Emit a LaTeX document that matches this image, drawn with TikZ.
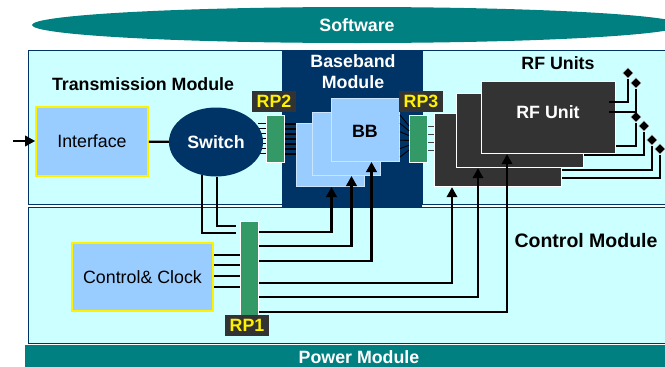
\documentclass[tikz,border=0pt]{standalone}
\usepackage{fontspec}
\setmainfont{Liberation Sans}
\usetikzlibrary{arrows.meta,shapes.geometric}
\definecolor{softteal}{HTML}{008080}
\definecolor{bgcyan}{HTML}{CCFFFF}
\definecolor{navy}{HTML}{003366}
\definecolor{bblue}{HTML}{99CCFF}
\definecolor{bbedge}{HTML}{CCE5FF}
\definecolor{rpgreen}{HTML}{339966}
\definecolor{rfgray}{HTML}{333333}
\newcommand{\lblfont}{\fontsize{17.8pt}{21pt}\selectfont}
\begin{document}
\begin{tikzpicture}[x=1pt, y=-1pt, >={Triangle[length=10pt,width=10.5pt]},
  module/.style={draw=navy, line width=1pt, fill=bgcyan, anchor=north west, inner sep=0pt},
  title/.style={font=\lblfont\bfseries},
  bbbox/.style={draw=bbedge, line width=1pt, fill=bblue, anchor=north west, inner sep=0pt, minimum width=68pt, minimum height=63pt},
  rfbox/.style={draw=white, line width=1.2pt, fill=rfgray, anchor=north west, inner sep=0pt, minimum height=73pt},
  rpbar/.style={draw=white, line width=1.2pt, fill=rpgreen, anchor=north west, inner sep=0pt, minimum width=18pt},
  rplabel/.style={fill=rfgray, text=yellow, font=\lblfont\bfseries, inner sep=0pt, minimum width=44pt, minimum height=21pt},
  ctrlbox/.style={draw=yellow, line width=1.8pt, fill=bblue, inner sep=0pt, font=\lblfont},
  antenna/.style={diamond, draw=white, line width=0.5pt, fill=black, inner sep=0pt, minimum width=11pt, minimum height=11pt},
  wire/.style={line width=2.2pt},
  thinwire/.style={line width=0.9pt}]
  \useasboundingbox (0,0) rectangle (665,367);
  \clip (0,0) rectangle (665,367);
  \fill[white] (0,0) rectangle (665,367);
  \node[ellipse, fill=softteal, text=white, title, minimum width=650pt, minimum height=36pt, inner sep=0pt] (soft) at (357,25) {Software};
  \node[module, minimum width=652pt, minimum height=136pt] (ctrl) at (28,207) {};
  \node[module, minimum width=254pt, minimum height=154pt] (trans) at (28,50) {};
  \node[module, minimum width=258pt, minimum height=154pt] (rfu) at (422,50) {};
  \node[fill=navy, anchor=north west, inner sep=0pt, minimum width=140pt, minimum height=157pt] (base) at (282,50) {};
  \node[fill=softteal, anchor=north west, inner sep=0pt, minimum width=655pt, minimum height=25pt] (power) at (25,345) {};
  \node[title] (translbl) at (143,84) {Transmission Module};
  \node[title, text=white, align=center] (baselbl) at (353,72) {Baseband\\Module};
  \node[title] (rflbl) at (558,63) {RF Units};
  \node[font=\fontsize{19.5pt}{22pt}\selectfont\bfseries] (ctrllbl) at (586,241) {Control Module};
  \node[title, text=white] (powerlbl) at (359,357) {Power Module};
  \node[ctrlbox, minimum width=112pt, minimum height=69pt] (iface) at (92,141.5) {Interface};
  \node[ctrlbox, minimum width=141pt, minimum height=68pt] (clock) at (142.5,277) {Control\& Clock};
  \coordinate (in) at (13,141);
  \draw[wire,->] (in) -- (iface.west |- in);
  \foreach \y in {123,128,...,153}
    \draw[thinwire] (266,\y) -- ++(-8,0);
  \node[ellipse, fill=navy, text=white, title, minimum width=94pt, minimum height=69pt, inner sep=0pt] (switch) at (216,142) {Switch};
  \draw[wire] (iface) -- (switch);
  \node[bbbox] (bb3) at (296,123) {};
  \node[bbbox] (bb2) at (312,112) {};
  \node[bbbox] (bb1) at (331,98) {};
  \node[title] (bblbl) at (365,131) {BB};
  \node[rfbox, minimum width=127pt] (rf3) at (434,113) {};
  \node[rfbox, minimum width=127pt, minimum height=74pt] (rf2) at (456,93) {};
  \node[rfbox, minimum width=134pt, minimum height=72pt] (rf1) at (481,81) {};
  \node[title, text=white] (rflabel) at (548,112) {RF Unit};
  \node[rpbar, minimum height=47pt] (rp2) at (266,115) {};
  \node[rpbar, minimum height=47pt] (rp3) at (409,115) {};
  \node[rpbar, minimum height=94pt] (rp1) at (240,221) {};
  \node[rplabel] (rp2lbl) at (274,101.5) {RP2};
  \node[rplabel] (rp3lbl) at (421,101.5) {RP3};
  \node[rplabel] (rp1lbl) at (247,325) {RP1};
  \foreach \n/\x/\y in {1/628/73, 2/636/83, 3/636/117, 4/644/126, 5/652/140, 6/660/149}
    \node[antenna] (a\n) at (\x,\y) {};
  \foreach \y in {124,129,...,154}
    \draw[line width=1.6pt] (rp2.east |- 0,\y) -- (bb3.west |- 0,\y);
  \foreach \k [evaluate=\k as \ya using 115+8.4*\k, evaluate=\k as \yb using 126+4.8*\k] in {0,...,5}
    \draw[thinwire] (bb1.east |- 0,\ya) -- (rp3.west |- 0,\yb);
  \foreach \y in {126,134,142,150}
    \draw[thinwire, darkgray] (rp3.east |- 0,\y) -- (rf3.west |- 0,\y);
  \draw[wire] ([xshift=-7pt]rf1.east |- 0,102) -| (a1);
  \draw[wire] ([xshift=-7pt]rf1.east |- 0,112) -| (a2);
  \draw[wire] (rf1.east |- 0,146) -| (a3);
  \draw[wire] (rf2.east |- 0,155) -| (a4);
  \draw[wire] (rf3.east |- 0,170) -| (a5);
  \draw[wire] (rf3.east |- 0,178) -| (a6);
  \draw[wire, shorten >=4pt] (switch.247) |- (rp1.west |- 0,233);
  \draw[wire, shorten >=4pt] (switch.272) |- (rp1.west |- 0,226);
  \foreach \y in {255,265,276,287}
    \draw[wire] (clock.east |- 0,\y) -- (rp1.west |- 0,\y);
  \draw[wire,->] (rp1.east |- 0,232) -| ([xshift=1pt]bb3.south);
  \draw[wire,->] (rp1.east |- 0,246) -| ([xshift=5pt]bb2.south);
  \draw[wire,->] (rp1.east |- 0,261) -| ([xshift=6pt]bb1.south);
  \draw[wire,->] (rp1.east |- 0,283) -| ([xshift=18pt]rf3.south west);
  \draw[wire,->] (rp1.east |- 0,297) -| ([xshift=22pt]rf2.south west);
  \draw[wire,->] (rp1.east |- 0,312) -| ([xshift=26pt]rf1.south west);
\end{tikzpicture}
\end{document}
